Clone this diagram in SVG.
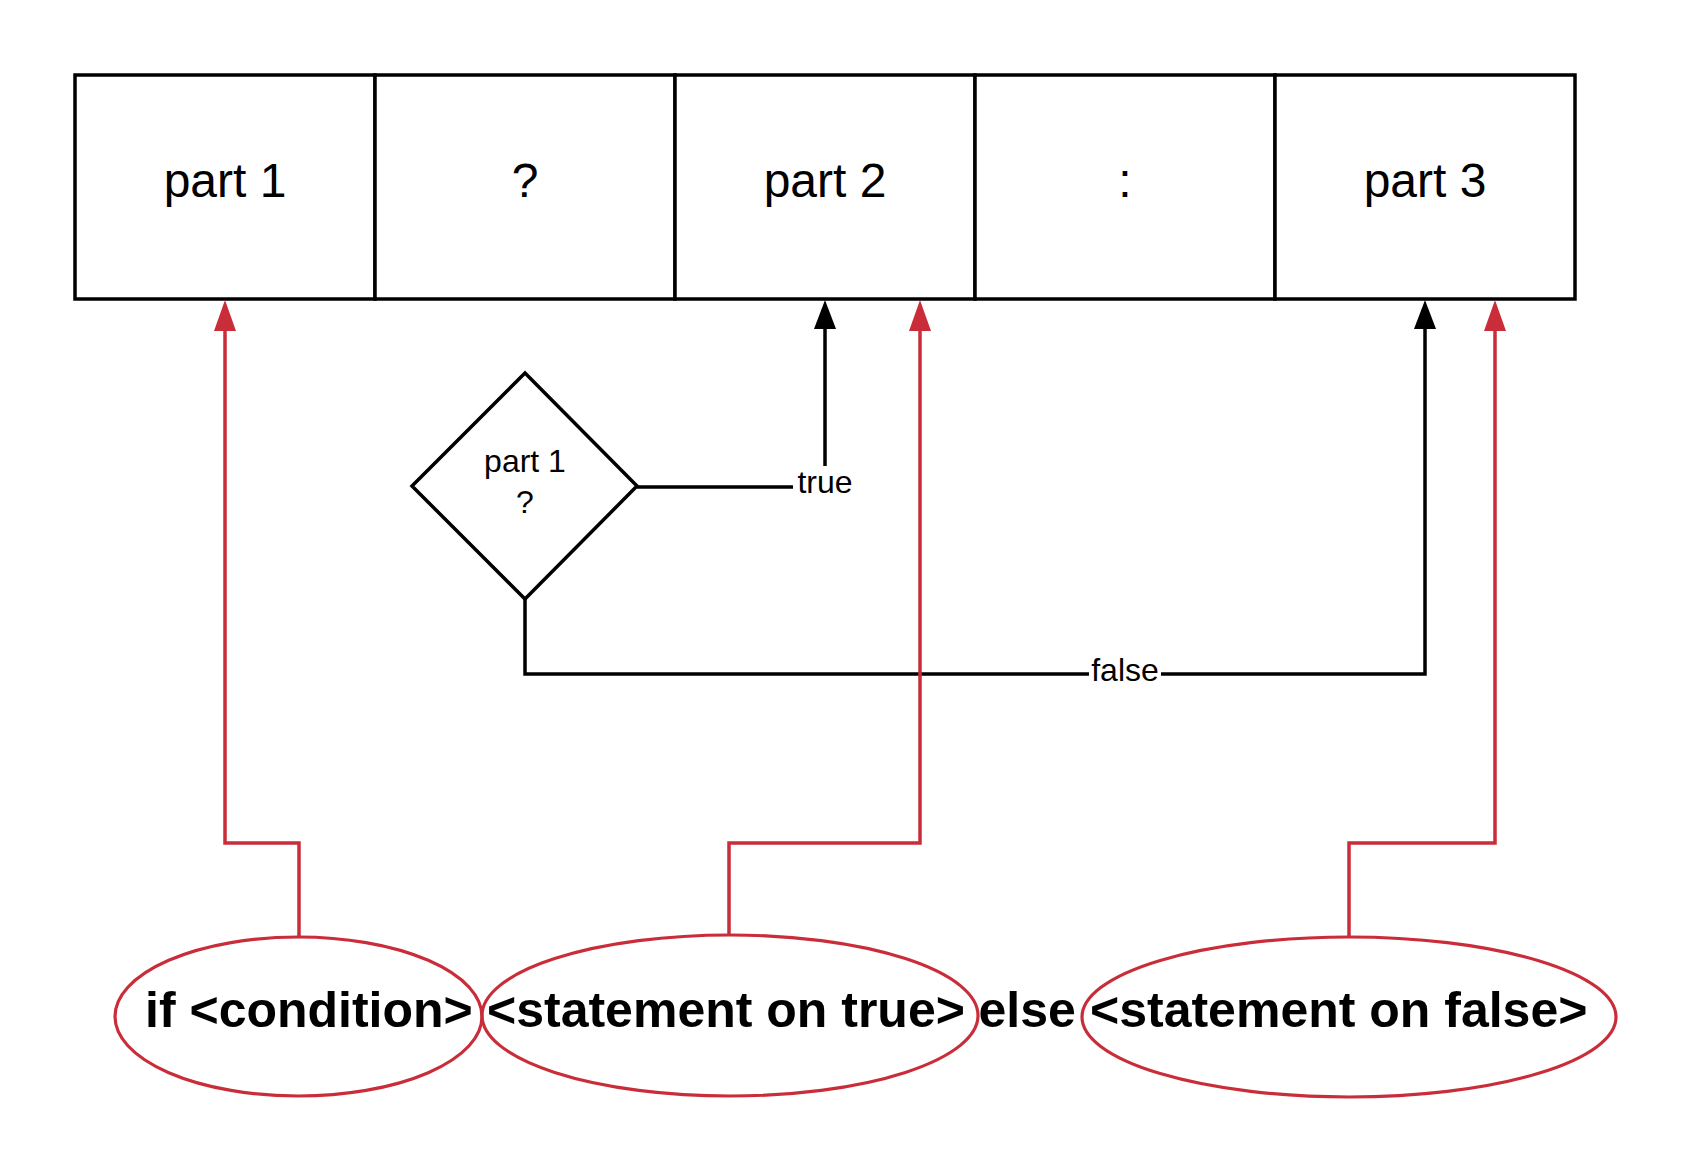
<svg xmlns="http://www.w3.org/2000/svg" width="1691" height="1174" viewBox="0 0 1691 1174">
  <style>
    .cell { fill: #ffffff; stroke: #000000; stroke-width: 3.5; }
    .big { font-family: "Liberation Sans", Arial, sans-serif; font-size: 48px; fill: #000000; text-anchor: middle; }
    .mid { font-family: "Liberation Sans", Arial, sans-serif; font-size: 32px; fill: #000000; text-anchor: middle; }
    .bold { font-family: "Liberation Sans", Arial, sans-serif; font-size: 50px; font-weight: bold; fill: #000000; }
    .oval { fill: none; stroke: #c92d39; stroke-width: 3.2; }
    .blk { fill: none; stroke: #000000; stroke-width: 3.5; }
    .red { fill: none; stroke: #c92d39; stroke-width: 3.5; }
    .lblbg { fill: #ffffff; stroke: none; }
  </style>
  <defs>
    <marker id="arrBlack" markerUnits="userSpaceOnUse" markerWidth="30" markerHeight="22" refX="24" refY="11" orient="auto" viewBox="0 0 30 22">
      <path d="M0,0 L29,11 L0,22 Z" fill="#000000"/>
    </marker>
    <marker id="arrRed" markerUnits="userSpaceOnUse" markerWidth="32" markerHeight="22" refX="26" refY="11" orient="auto" viewBox="0 0 32 22">
      <path d="M0,0 L31,11 L0,22 Z" fill="#c92d39"/>
    </marker>
  </defs>
  <rect x="0" y="0" width="1691" height="1174" fill="#ffffff"/>

  <g id="cell-part1">
    <rect class="cell" x="75" y="75" width="300" height="224"/>
    <text class="big" x="225" y="197">part 1</text>
  </g>
  <g id="cell-question">
    <rect class="cell" x="375" y="75" width="300" height="224"/>
    <text class="big" x="525" y="197">?</text>
  </g>
  <g id="cell-part2">
    <rect class="cell" x="675" y="75" width="300" height="224"/>
    <text class="big" x="825" y="197">part 2</text>
  </g>
  <g id="cell-colon">
    <rect class="cell" x="975" y="75" width="300" height="224"/>
    <text class="big" x="1125" y="197">:</text>
  </g>
  <g id="cell-part3">
    <rect class="cell" x="1275" y="75" width="300" height="224"/>
    <text class="big" x="1425" y="197">part 3</text>
  </g>

  <g id="decision">
    <polygon points="525,373 637,486 525,599 412,486" fill="#ffffff" stroke="#000000" stroke-width="3.5"/>
    <text class="mid" x="525" y="472">part 1</text>
    <text class="mid" x="525" y="513">?</text>
  </g>

  <g id="connectors">
    <path class="blk" d="M637,487 H825 V305" marker-end="url(#arrBlack)"/>
    <rect class="lblbg" x="793" y="466" width="63" height="36"/>
    <text class="mid" x="825" y="493">true</text>

    <path class="blk" d="M525,599 V674 H1425 V305" marker-end="url(#arrBlack)"/>
    <rect class="lblbg" x="1089" y="655" width="72" height="36"/>
    <text class="mid" x="1125" y="681">false</text>

    <path class="red" d="M299,937 V843 H225 V305" marker-end="url(#arrRed)"/>
    <path class="red" d="M729,935 V843 H920 V305" marker-end="url(#arrRed)"/>
    <path class="red" d="M1349,937 V843 H1495 V305" marker-end="url(#arrRed)"/>
  </g>

  <g id="oval-condition">
    <ellipse class="oval" cx="298.5" cy="1016.5" rx="183.5" ry="79.5"/>
    <text class="bold" x="145" y="1027">if &lt;condition&gt;</text>
  </g>
  <g id="oval-true">
    <ellipse class="oval" cx="730" cy="1015.5" rx="248" ry="80.5"/>
    <text class="bold" x="487" y="1027">&lt;statement on true&gt;</text>
  </g>
  <g id="word-else">
    <text class="bold" x="978.5" y="1027">else</text>
  </g>
  <g id="oval-false">
    <ellipse class="oval" cx="1349" cy="1017" rx="267" ry="80"/>
    <text class="bold" x="1090" y="1027">&lt;statement on false&gt;</text>
  </g>
</svg>
